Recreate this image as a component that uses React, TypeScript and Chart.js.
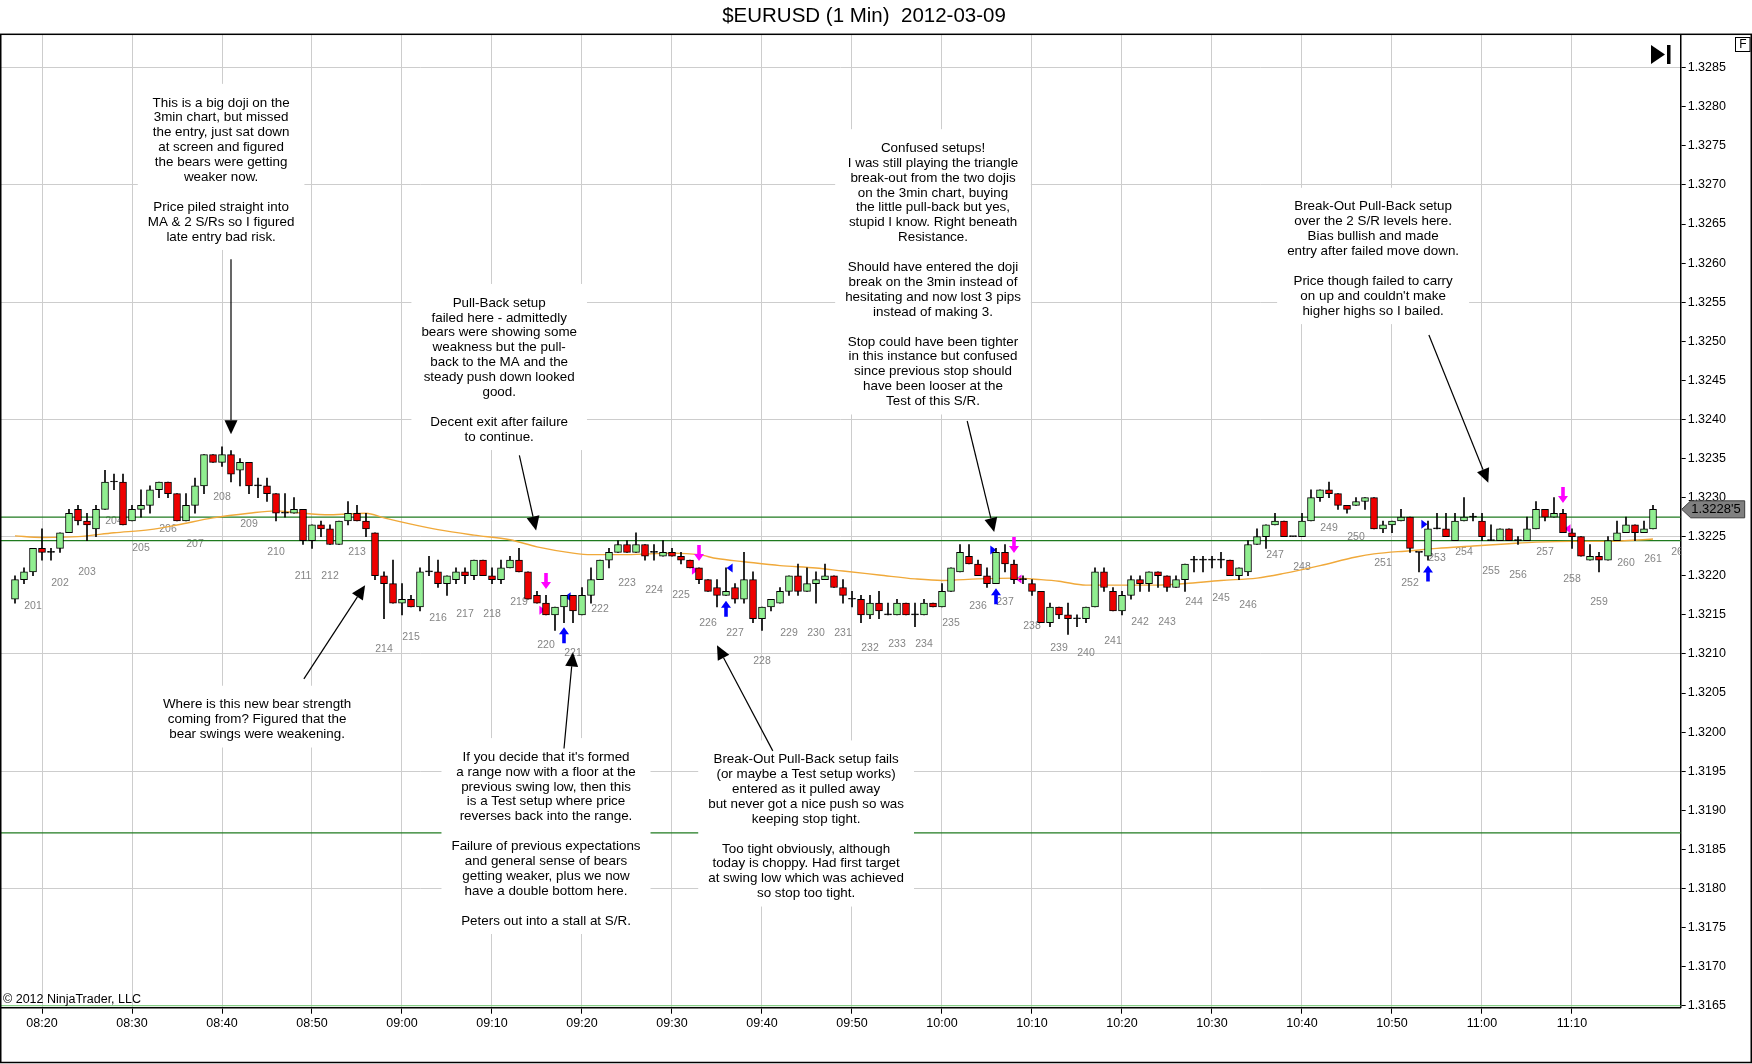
import React, { useEffect, useRef } from "react";
import { Chart, registerables } from "chart.js";

Chart.register(...registerables);

const TITLE = "$EURUSD (1 Min)  2012-03-09";
const COPYRIGHT = "\u00A9 2012 NinjaTrader, LLC";
const FIRST_BAR_TIME = "08:17";

// OHLC of every 1-minute bar, 08:17 .. 11:19
const opens = [
  1.3217, 1.32195, 1.32205, 1.32235, 1.3223, 1.32235, 1.32255, 1.32285, 1.3227, 1.3226,
  1.32285, 1.3232, 1.3232, 1.3227, 1.32285, 1.3229, 1.3231, 1.3232, 1.32305, 1.3227,
  1.3229, 1.32315, 1.32355, 1.32345, 1.32355, 1.32335, 1.32345, 1.32315, 1.32315, 1.32305,
  1.3228, 1.3228, 1.32285, 1.32245, 1.32265, 1.3226, 1.3224, 1.3227, 1.3228, 1.3227,
  1.32255, 1.322, 1.3219, 1.32165, 1.3217, 1.3216, 1.32205, 1.32205, 1.3219, 1.32195,
  1.32205, 1.322, 1.3222, 1.322, 1.32195, 1.3221, 1.3222, 1.32205, 1.32175, 1.32165,
  1.3215, 1.3216, 1.32175, 1.3215, 1.32175, 1.32195, 1.3222, 1.3223, 1.3224, 1.3223,
  1.3224, 1.3223, 1.32225, 1.3223, 1.32225, 1.3222, 1.3221, 1.32195, 1.32185, 1.32175,
  1.32185, 1.3217, 1.32195, 1.32145, 1.3216, 1.32165, 1.3218, 1.322, 1.3218, 1.3219,
  1.32195, 1.322, 1.32185, 1.3217, 1.3217, 1.3215, 1.32165, 1.3215, 1.3215, 1.32165,
  1.3215, 1.3215, 1.32165, 1.3216, 1.3218, 1.32205, 1.32225, 1.32215, 1.322, 1.3219,
  1.3223, 1.32215, 1.32195, 1.3219, 1.3218, 1.3214, 1.3216, 1.3215, 1.32145, 1.32145,
  1.3216, 1.32205, 1.3218, 1.32155, 1.32175, 1.32195, 1.3219, 1.32205, 1.322, 1.32185,
  1.32195, 1.3222, 1.3222, 1.3222, 1.3222, 1.3222, 1.322, 1.32205, 1.3224, 1.3225,
  1.32265, 1.3227, 1.3225, 1.3225, 1.3227, 1.323, 1.3231, 1.32305, 1.3229, 1.3229,
  1.32295, 1.323, 1.3226, 1.32265, 1.3227, 1.32275, 1.3223, 1.32225, 1.3226, 1.3226,
  1.32245, 1.3227, 1.32275, 1.3227, 1.32245, 1.32245, 1.3226, 1.32245, 1.32245, 1.3226,
  1.32285, 1.32275, 1.3228, 1.32255, 1.3225, 1.3222, 1.32225, 1.3222, 1.32245, 1.32255,
  1.32265, 1.32255, 1.3226,
];
const highs = [
  1.322, 1.3221, 1.32235, 1.3226, 1.32235, 1.32255, 1.32285, 1.3229, 1.3228, 1.3229,
  1.32335, 1.3233, 1.3233, 1.3229, 1.3231, 1.32315, 1.3232, 1.3232, 1.32305, 1.32305,
  1.32325, 1.32355, 1.32355, 1.32365, 1.3236, 1.3235, 1.32345, 1.32325, 1.32325, 1.32305,
  1.32305, 1.323, 1.32285, 1.32265, 1.3227, 1.32265, 1.3227, 1.32295, 1.3229, 1.3228,
  1.32255, 1.32205, 1.3222, 1.3219, 1.32175, 1.3221, 1.32225, 1.3222, 1.322, 1.3221,
  1.3221, 1.3222, 1.3222, 1.3221, 1.3222, 1.32225, 1.32235, 1.32205, 1.3218, 1.32175,
  1.3216, 1.32175, 1.32175, 1.32185, 1.3221, 1.3222, 1.32235, 1.32245, 1.32245, 1.32255,
  1.3224, 1.3224, 1.32245, 1.32235, 1.3223, 1.3222, 1.3221, 1.32195, 1.32195, 1.3221,
  1.3219, 1.3223, 1.32205, 1.3216, 1.32165, 1.32185, 1.322, 1.32215, 1.3221, 1.32205,
  1.32215, 1.322, 1.32195, 1.3218, 1.32175, 1.32175, 1.3218, 1.32165, 1.3217, 1.32165,
  1.32165, 1.3217, 1.32165, 1.3219, 1.3221, 1.3224, 1.3224, 1.3222, 1.3221, 1.32235,
  1.3224, 1.3222, 1.322, 1.32195, 1.3218, 1.32165, 1.3216, 1.32165, 1.3215, 1.3216,
  1.3221, 1.3221, 1.32185, 1.3218, 1.322, 1.322, 1.32205, 1.32205, 1.322, 1.322,
  1.32215, 1.32225, 1.32225, 1.32225, 1.3223, 1.3222, 1.3221, 1.32245, 1.3226, 1.32265,
  1.3228, 1.3227, 1.3225, 1.3228, 1.3231, 1.3231, 1.3232, 1.32305, 1.3229, 1.323,
  1.323, 1.323, 1.3227, 1.3227, 1.32285, 1.32275, 1.3223, 1.3227, 1.3228, 1.3228,
  1.3228, 1.323, 1.3228, 1.3228, 1.32265, 1.3226, 1.3226, 1.3225, 1.32275, 1.32295,
  1.32285, 1.323, 1.32285, 1.3226, 1.3225, 1.3224, 1.3223, 1.3225, 1.3227, 1.32275,
  1.32265, 1.3227, 1.3229,
];
const lows = [
  1.32165, 1.3219, 1.322, 1.3222, 1.3222, 1.3223, 1.32255, 1.32265, 1.32245, 1.3225,
  1.32285, 1.3231, 1.32265, 1.3227, 1.32275, 1.3228, 1.323, 1.323, 1.3227, 1.3227,
  1.3228, 1.32305, 1.32345, 1.3234, 1.3232, 1.32315, 1.32305, 1.323, 1.32295, 1.3227,
  1.32275, 1.3228, 1.3224, 1.32235, 1.3225, 1.3224, 1.3224, 1.32265, 1.3227, 1.3225,
  1.32195, 1.32145, 1.32165, 1.3215, 1.3216, 1.32155, 1.322, 1.32185, 1.32175, 1.3219,
  1.3219, 1.32195, 1.322, 1.3219, 1.3219, 1.3221, 1.32205, 1.3217, 1.32165, 1.3215,
  1.3213, 1.3214, 1.3214, 1.3215, 1.32165, 1.32195, 1.3221, 1.3223, 1.3223, 1.3223,
  1.3222, 1.3222, 1.32225, 1.32225, 1.32215, 1.3221, 1.3219, 1.3218, 1.3216, 1.32175,
  1.32165, 1.32165, 1.3214, 1.3213, 1.32155, 1.32165, 1.32175, 1.32175, 1.3218, 1.32165,
  1.32195, 1.32185, 1.32165, 1.3216, 1.3214, 1.32145, 1.32145, 1.3215, 1.3215, 1.3215,
  1.32135, 1.3215, 1.3216, 1.3216, 1.3218, 1.32205, 1.32215, 1.322, 1.32185, 1.3219,
  1.32205, 1.3219, 1.3219, 1.32175, 1.3214, 1.32135, 1.32145, 1.32125, 1.32135, 1.3214,
  1.3216, 1.3218, 1.32155, 1.3215, 1.3217, 1.3218, 1.3218, 1.32185, 1.3218, 1.32185,
  1.3218, 1.32205, 1.32205, 1.3221, 1.3221, 1.322, 1.32195, 1.322, 1.3224, 1.32235,
  1.32265, 1.3225, 1.3225, 1.3225, 1.3227, 1.32295, 1.323, 1.32285, 1.3228, 1.3229,
  1.32285, 1.3226, 1.32255, 1.32255, 1.3227, 1.3223, 1.32205, 1.3222, 1.3226, 1.3225,
  1.32245, 1.3227, 1.3227, 1.32245, 1.32245, 1.32245, 1.32245, 1.3224, 1.32245, 1.3226,
  1.3227, 1.32275, 1.32255, 1.32235, 1.32225, 1.3222, 1.32205, 1.3222, 1.32245, 1.32255,
  1.32245, 1.32255, 1.3226,
];
const closes = [
  1.32195, 1.32205, 1.32235, 1.3223, 1.3223, 1.32255, 1.3228, 1.3227, 1.32265, 1.32285,
  1.3232, 1.3232, 1.32265, 1.32285, 1.3229, 1.3231, 1.3232, 1.32305, 1.3227, 1.3229,
  1.32315, 1.32355, 1.32345, 1.32355, 1.3233, 1.32345, 1.32315, 1.32315, 1.32305, 1.3228,
  1.3228, 1.32285, 1.32245, 1.32265, 1.3226, 1.3224, 1.3227, 1.3228, 1.3227, 1.3226,
  1.322, 1.3219, 1.32165, 1.3217, 1.3216, 1.32205, 1.32205, 1.3219, 1.322, 1.32205,
  1.322, 1.3222, 1.322, 1.32195, 1.3221, 1.3222, 1.32205, 1.3217, 1.32165, 1.3215,
  1.3216, 1.32175, 1.32155, 1.32175, 1.32195, 1.3222, 1.3223, 1.3224, 1.3223, 1.3224,
  1.32225, 1.3223, 1.3223, 1.32225, 1.3222, 1.3221, 1.32195, 1.3218, 1.32175, 1.3218,
  1.3217, 1.32195, 1.32145, 1.3216, 1.3217, 1.3218, 1.322, 1.3218, 1.3219, 1.32195,
  1.322, 1.32185, 1.32175, 1.3217, 1.3215, 1.32165, 1.32155, 1.3215, 1.32165, 1.3215,
  1.3215, 1.32165, 1.3216, 1.3218, 1.3221, 1.3223, 1.32215, 1.322, 1.3219, 1.3223,
  1.32215, 1.32195, 1.32195, 1.3218, 1.3214, 1.3216, 1.3215, 1.32145, 1.32145, 1.3216,
  1.32205, 1.32185, 1.32155, 1.32175, 1.32195, 1.3219, 1.32205, 1.322, 1.32185, 1.32195,
  1.32215, 1.3222, 1.3222, 1.3222, 1.3222, 1.322, 1.3221, 1.3224, 1.3225, 1.32265,
  1.3227, 1.3225, 1.3225, 1.3227, 1.323, 1.3231, 1.32305, 1.3229, 1.32285, 1.32295,
  1.323, 1.3226, 1.32265, 1.3227, 1.32275, 1.32235, 1.3223, 1.3226, 1.3226, 1.3225,
  1.3227, 1.32275, 1.32275, 1.3225, 1.32245, 1.3226, 1.32245, 1.32245, 1.3226, 1.32285,
  1.32275, 1.3228, 1.32255, 1.3225, 1.32225, 1.32225, 1.3222, 1.32245, 1.32255, 1.32265,
  1.32255, 1.3226, 1.32285,
];

// moving average (orange) read at selected times
const maTimes = [
  "08:17", "08:20", "08:24", "08:28", "08:32", "08:35", "08:39", "08:43", "08:46", "08:48",
  "08:52", "08:56", "08:58", "09:01", "09:04", "09:08", "09:12", "09:15", "09:19", "09:21",
  "09:25", "09:30", "09:33", "09:35", "09:38", "09:42", "09:46", "09:49", "09:53", "09:57",
  "10:00", "10:04", "10:08", "10:11", "10:13", "10:16", "10:20", "10:24", "10:27", "10:31",
  "10:35", "10:38", "10:42", "10:46", "10:48", "10:52", "10:55", "10:59", "11:03", "11:06",
  "11:10", "11:14", "11:19",
];
const maValues = [
  1.32251, 1.32249, 1.3225, 1.32255, 1.32259, 1.32265, 1.32274, 1.3228, 1.32283, 1.32281,
  1.32278, 1.3228, 1.32274, 1.32266, 1.32259, 1.32252, 1.32246, 1.32237, 1.32229, 1.32227,
  1.32227, 1.32229, 1.32227, 1.32222, 1.32218, 1.32213, 1.3221, 1.32206, 1.32201, 1.32196,
  1.32194, 1.32196, 1.32197, 1.32195, 1.32193, 1.32188, 1.32188, 1.32188, 1.3219, 1.32194,
  1.32197, 1.32203, 1.32213, 1.32224, 1.32228, 1.32232, 1.32235, 1.32238, 1.32241, 1.32243,
  1.32244, 1.32244, 1.32247,
];

// support / resistance lines
const srLevels = [1.32275, 1.32245, 1.31871, 1.3165];
const srColors = ["#1f7a1f", "#1f7a1f", "#1f7a1f", "#86cf86"];

// bar-count labels (every 3rd bar), minute-of-day and price position
const barLabels = [
  201, 202, 203, 204, 205, 206, 207, 208, 209, 210, 211, 212, 213, 214, 215, 216, 217, 218, 219, 220,
  221, 222, 223, 224, 225, 226, 227, 228, 229, 230, 231, 232, 233, 234, 235, 236, 237, 238, 239, 240,
  241, 242, 243, 244, 245, 246, 247, 248, 249, 250, 251, 252, 253, 254, 255, 256, 257, 258, 259, 260,
  261, 262,
];
const barLabelPrices = [
  1.32161, 1.32191, 1.32205, 1.3227, 1.32235, 1.3226, 1.3224, 1.323, 1.32266, 1.3223,
  1.322, 1.322, 1.3223, 1.32106, 1.32121, 1.32146, 1.32151, 1.32151, 1.32166, 1.32111,
  1.32101, 1.32157, 1.32191, 1.32181, 1.32175, 1.3214, 1.32126, 1.32091, 1.32126, 1.32126,
  1.32126, 1.32107, 1.32112, 1.32112, 1.3214, 1.32161, 1.32166, 1.32135, 1.32107, 1.32101,
  1.32116, 1.32141, 1.32141, 1.32166, 1.32171, 1.32162, 1.32226, 1.32211, 1.32261, 1.3225,
  1.32216, 1.32191, 1.32222, 1.3223, 1.32206, 1.32201, 1.3223, 1.32196, 1.32166, 1.32216,
  1.32221, 1.3223,
];

// trade signal markers (minute of day, price)
const sellArrowTimes = [556, 573, 608, 669];
const sellArrowPrices = [1.32183, 1.32219, 1.32229, 1.32293];
const buyArrowTimes = [558, 576, 606, 654];
const buyArrowPrices = [1.32134, 1.32168, 1.32184, 1.32213];
const entryMarkTimes = [558.4, 576.4, 605.7, 653.6];
const entryMarkPrices = [1.32173, 1.3221, 1.32233, 1.32266];
const entryMarkDirs = [-1, -1, 1, 1];
const exitMarkTimes = [555.6, 572.55, 608.5, 669.5];
const exitMarkPrices = [1.32156, 1.32207, 1.32196, 1.3226];
const exitMarkDirs = [1, 1, -1, -1];

// text annotations
const noteTexts = [
  ["This is a big doji on the", "3min chart, but missed", "the entry, just sat down", "at screen and figured", "the bears were getting", "weaker now.", "", "Price piled straight into", "MA & 2 S/Rs so I figured", "late entry bad risk."],
  ["Pull-Back setup", "failed here - admittedly", "bears were showing some", "weakness but the pull-", "back to the MA and the", "steady push down looked", "good.", "", "Decent exit after failure", "to continue."],
  ["Confused setups!", "I was still playing the triangle", "break-out from the two dojis", "on the 3min chart, buying", "the little pull-back but yes,", "stupid I know. Right beneath", "Resistance.", "", "Should have entered the doji", "break on the 3min instead of", "hesitating and now lost 3 pips", "instead of making 3.", "", "Stop could have been tighter", "in this instance but confused", "since previous stop should", "have been looser at the", "Test of this S/R."],
  ["Break-Out Pull-Back setup", "over the 2 S/R levels here.", "Bias bullish and made", "entry after failed move down.", "", "Price though failed to carry", "on up and couldn't make", "higher highs so I bailed."],
  ["Where is this new bear strength", "coming from? Figured that the", "bear swings were weakening."],
  ["If you decide that it's formed", "a range now with a floor at the", "previous swing low, then this", "is a Test setup where price", "reverses back into the range.", "", "Failure of previous expectations", "and general sense of bears", "getting weaker, plus we now", "have a double bottom here.", "", "Peters out into a stall at S/R."],
  ["Break-Out Pull-Back setup fails", "(or maybe a Test setup works)", "entered as it pulled away", "but never got a nice push so was", "keeping stop tight.", "", "Too tight obviously, although", "today is choppy. Had first target", "at swing low which was achieved", "so stop too tight."],
];
const noteTimes = [519.9, 550.8, 599, 647.9, 523.9, 556, 584.9];
const notePrices = [1.32805, 1.32549, 1.32747, 1.32672, 1.32035, 1.31968, 1.31965];
const noteArrowFromTimes = [521, 553.04, 602.8, 654.1, 529.1, 558, 581.2];
const noteArrowFromPrices = [1.32605, 1.32354, 1.32398, 1.32508, 1.32068, 1.31979, 1.31976];
const noteArrowToTimes = [521, 554.9, 605.8, 660.7, 535.9, 559, 575];
const noteArrowToPrices = [1.32381, 1.32258, 1.32256, 1.32319, 1.32188, 1.32102, 1.32111];

// ---------------------------------------------------------------------------
const FONT = '"Liberation Sans", Arial, Helvetica, sans-serif';
const W = 1752;
const H = 1064;
const X_MIN = 495.4444;
const X_MAX = 682.078;
const Y_MIN = 1.316474;
const Y_MAX = 1.328927;
const UP = "#90ee90";
const DOWN = "#ee0000";
const GRID = "#cdcdcd";

const toMin = (t: string) => {
  const [h, m] = t.split(":").map(Number);
  return h * 60 + m;
};
const fmtTime = (v: number) => {
  const h = Math.floor(v / 60);
  const m = Math.round(v - h * 60);
  return `${String(h).padStart(2, "0")}:${String(m).padStart(2, "0")}`;
};

function drawSignal(ctx: any, x: number, tipY: number, s: number, color: string) {
  ctx.fillStyle = color;
  ctx.beginPath();
  ctx.moveTo(x, tipY);
  ctx.lineTo(x - 5, tipY - 7 * s);
  ctx.lineTo(x - 1.8, tipY - 7 * s);
  ctx.lineTo(x - 1.8, tipY - 16 * s);
  ctx.lineTo(x + 1.8, tipY - 16 * s);
  ctx.lineTo(x + 1.8, tipY - 7 * s);
  ctx.lineTo(x + 5, tipY - 7 * s);
  ctx.closePath();
  ctx.fill();
}

function drawTri(ctx: any, x: number, y: number, dir: number, color: string) {
  ctx.fillStyle = color;
  ctx.beginPath();
  ctx.moveTo(x + 3 * dir, y);
  ctx.lineTo(x - 3 * dir, y - 4.5);
  ctx.lineTo(x - 3 * dir, y + 4.5);
  ctx.closePath();
  ctx.fill();
}

function drawNoteArrow(ctx: any, x1: number, y1: number, x2: number, y2: number) {
  const ang = Math.atan2(y2 - y1, x2 - x1);
  const hl = 14;
  const hw = 6.5;
  const bx = x2 - hl * Math.cos(ang);
  const by = y2 - hl * Math.sin(ang);
  ctx.strokeStyle = "#000";
  ctx.lineWidth = 1.2;
  ctx.beginPath();
  ctx.moveTo(x1, y1);
  ctx.lineTo(bx, by);
  ctx.stroke();
  ctx.fillStyle = "#000";
  ctx.beginPath();
  ctx.moveTo(x2, y2);
  ctx.lineTo(bx + hw * Math.sin(ang), by - hw * Math.cos(ang));
  ctx.lineTo(bx - hw * Math.sin(ang), by + hw * Math.cos(ang));
  ctx.closePath();
  ctx.fill();
}

const overlayPlugin = {
  id: "overlay",
  beforeDraw(chart: any) {
    const { ctx } = chart;
    ctx.save();
    ctx.fillStyle = "#fff";
    ctx.fillRect(0, 0, chart.width, chart.height);
    ctx.restore();
  },
  beforeDatasetsDraw(chart: any) {
    const { ctx, chartArea: a } = chart;
    const xs = chart.scales.x;
    const ys = chart.scales.y;
    const first = toMin(FIRST_BAR_TIME);
    ctx.save();
    ctx.beginPath();
    ctx.rect(a.left, a.top, a.right - a.left, a.bottom - a.top);
    ctx.clip();
    ctx.font = `10.5px ${FONT}`;
    ctx.fillStyle = "#858585";
    ctx.textAlign = "center";
    ctx.textBaseline = "middle";
    barLabels.forEach((n, i) => {
      const t = first + 2 + 3 * i;
      ctx.fillText(String(n), xs.getPixelForValue(t), ys.getPixelForValue(barLabelPrices[i]));
    });
    exitMarkTimes.forEach((t, i) =>
      drawTri(ctx, xs.getPixelForValue(t), ys.getPixelForValue(exitMarkPrices[i]), exitMarkDirs[i], "#ff00ff")
    );
    entryMarkTimes.forEach((t, i) =>
      drawTri(ctx, xs.getPixelForValue(t), ys.getPixelForValue(entryMarkPrices[i]), entryMarkDirs[i], "#0000ff")
    );
    ctx.restore();
  },
  afterDatasetsDraw(chart: any) {
    const { ctx, chartArea: a } = chart;
    const xs = chart.scales.x;
    const ys = chart.scales.y;
    ctx.save();
    ctx.beginPath();
    ctx.rect(a.left, a.top, a.right - a.left, a.bottom - a.top);
    ctx.clip();
    sellArrowTimes.forEach((t, i) =>
      drawSignal(ctx, xs.getPixelForValue(t), ys.getPixelForValue(sellArrowPrices[i]), 1, "#ff00ff")
    );
    buyArrowTimes.forEach((t, i) =>
      drawSignal(ctx, xs.getPixelForValue(t), ys.getPixelForValue(buyArrowPrices[i]), -1, "#0000ff")
    );
    ctx.font = `13.4px ${FONT}`;
    ctx.textAlign = "center";
    ctx.textBaseline = "middle";
    const LH = 14.9;
    noteTexts.forEach((lines, i) => {
      const cx = xs.getPixelForValue(noteTimes[i]);
      const y0 = ys.getPixelForValue(notePrices[i]);
      const w = Math.max(...lines.map((l) => ctx.measureText(l).width));
      ctx.fillStyle = "#fff";
      ctx.fillRect(cx - w / 2 - 10, y0 - 19, w + 20, (lines.length - 1) * LH + 32);
      ctx.fillStyle = "#000";
      lines.forEach((l, k) => ctx.fillText(l, cx, y0 + k * LH));
    });
    noteTexts.forEach((_, i) => {
      drawNoteArrow(
        ctx,
        xs.getPixelForValue(noteArrowFromTimes[i]),
        ys.getPixelForValue(noteArrowFromPrices[i]),
        xs.getPixelForValue(noteArrowToTimes[i]),
        ys.getPixelForValue(noteArrowToPrices[i])
      );
    });
    ctx.restore();
  },
  afterDraw(chart: any) {
    const { ctx, chartArea: a } = chart;
    const ys = chart.scales.y;
    ctx.save();
    // outer frame
    ctx.strokeStyle = "#000";
    ctx.lineWidth = 1.5;
    ctx.strokeRect(0.75, a.top, W - 1.5, H - a.top - 1.5);
    // title
    ctx.fillStyle = "#000";
    ctx.font = `20.5px ${FONT}`;
    ctx.textAlign = "center";
    ctx.textBaseline = "middle";
    ctx.fillText(TITLE, 864, 16);
    // copyright
    ctx.font = `12.5px ${FONT}`;
    ctx.textAlign = "left";
    ctx.fillText(COPYRIGHT, 3, a.bottom - 8);
    // F box
    ctx.lineWidth = 1;
    ctx.strokeRect(1735.5, 37.5, 14.5, 14);
    ctx.font = `12px ${FONT}`;
    ctx.textAlign = "center";
    ctx.fillText("F", 1742.8, 45);
    // go-to-end icon
    ctx.beginPath();
    ctx.moveTo(1651, 45);
    ctx.lineTo(1665, 54.5);
    ctx.lineTo(1651, 64);
    ctx.closePath();
    ctx.fill();
    ctx.fillRect(1667, 45, 3.5, 19);
    // last price tag
    const last = closes[closes.length - 1];
    const y = ys.getPixelForValue(last);
    const s = last.toFixed(5);
    const txt = s.slice(0, -1) + "'" + s.slice(-1);
    const x0 = a.right + 1;
    ctx.beginPath();
    ctx.moveTo(x0, y);
    ctx.lineTo(x0 + 9, y - 8.5);
    ctx.lineTo(x0 + 63, y - 8.5);
    ctx.lineTo(x0 + 63, y + 8.5);
    ctx.lineTo(x0 + 9, y + 8.5);
    ctx.closePath();
    ctx.fillStyle = "#808080";
    ctx.fill();
    ctx.strokeStyle = "#3c3c3c";
    ctx.stroke();
    ctx.fillStyle = "#000";
    ctx.font = `13px ${FONT}`;
    ctx.textAlign = "left";
    ctx.fillText(txt, x0 + 9.5, y + 0.5);
    ctx.restore();
  },
};

function buildConfig(): any {
  const first = toMin(FIRST_BAR_TIME);
  const bodies = opens.map((o, i) => ({ x: first + i, y: [o, closes[i]] }));
  const wicks = opens.map((_, i) => ({ x: first + i, y: [lows[i], highs[i]] }));
  const bodyColors = opens.map((o, i) => (closes[i] > o ? UP : closes[i] < o ? DOWN : "#000"));
  const maData = maTimes.map((t, i) => ({ x: toMin(t), y: maValues[i] }));
  const srSets = srLevels.map((lv, i) => ({
    type: "line",
    data: [
      { x: X_MIN, y: lv },
      { x: X_MAX, y: lv },
    ],
    borderColor: srColors[i],
    borderWidth: 1.2,
    pointRadius: 0,
    order: 3,
  }));
  const tickFont = { family: FONT, size: 12.5 };
  return {
    type: "bar",
    data: {
      datasets: [
        {
          type: "bar",
          data: bodies,
          backgroundColor: bodyColors,
          borderColor: "#000",
          borderWidth: 1,
          borderSkipped: false,
          barThickness: 7,
          minBarLength: 1,
          grouped: false,
          order: 0,
        },
        {
          type: "bar",
          data: wicks,
          backgroundColor: "#000",
          borderWidth: 0,
          barThickness: 1,
          grouped: false,
          order: 1,
        },
        {
          type: "line",
          data: maData,
          borderColor: "#f0a93a",
          borderWidth: 1.4,
          pointRadius: 0,
          tension: 0.4,
          cubicInterpolationMode: "monotone",
          order: 2,
        },
        ...srSets,
      ],
    },
    options: {
      responsive: false,
      animation: false,
      events: [],
      layout: { padding: { left: 1, top: 34.3, right: 0, bottom: 0 } },
      plugins: { legend: { display: false }, tooltip: { enabled: false }, title: { display: false } },
      scales: {
        x: {
          type: "linear",
          min: X_MIN,
          max: X_MAX,
          offset: false,
          grid: { color: GRID, lineWidth: 1, tickColor: "#000", tickLength: 6, offset: false },
          border: { display: true, color: "#000", width: 1.5 },
          ticks: {
            stepSize: 10,
            autoSkip: false,
            maxTicksLimit: 60,
            includeBounds: false,
            maxRotation: 0,
            color: "#000",
            font: tickFont,
            padding: 2,
            callback: (v: any) => fmtTime(Number(v)),
          },
          afterBuildTicks: (s: any) => {
            s.ticks = s.ticks.filter((t: any) => t.value >= 500 && t.value <= 670);
          },
          afterFit: (s: any) => {
            s.height = 56.3;
          },
        },
        y: {
          type: "linear",
          position: "right",
          min: Y_MIN,
          max: Y_MAX,
          grid: {
            color: (c: any) => {
              const v = c.tick ? c.tick.value : null;
              if (v == null) return "rgba(0,0,0,0)";
              const k = Math.round((v - 1.3165) / 0.0005);
              return k % 3 === 0 ? GRID : "rgba(0,0,0,0)";
            },
            tickColor: "#000",
            tickLength: 5,
          },
          border: { display: true, color: "#000", width: 1.5 },
          ticks: {
            stepSize: 0.0005,
            autoSkip: false,
            maxTicksLimit: 60,
            includeBounds: false,
            color: "#000",
            font: tickFont,
            padding: 2,
            callback: (v: any) => Number(v).toFixed(4),
          },
          afterFit: (s: any) => {
            s.width = 71.3;
          },
        },
      },
    },
    plugins: [overlayPlugin],
  };
}

export default function App() {
  const ref = useRef<HTMLCanvasElement | null>(null);
  useEffect(() => {
    if (!ref.current) return;
    document.body.style.margin = "0";
    document.body.style.overflow = "hidden";
    const chart = new Chart(ref.current, buildConfig());
    return () => chart.destroy();
  }, []);
  return (
    <div style={{ position: "absolute", left: 0, top: 0, width: W, height: H, background: "#fff" }}>
      <canvas ref={ref} width={W} height={H} style={{ display: "block", width: W, height: H }} />
    </div>
  );
}
